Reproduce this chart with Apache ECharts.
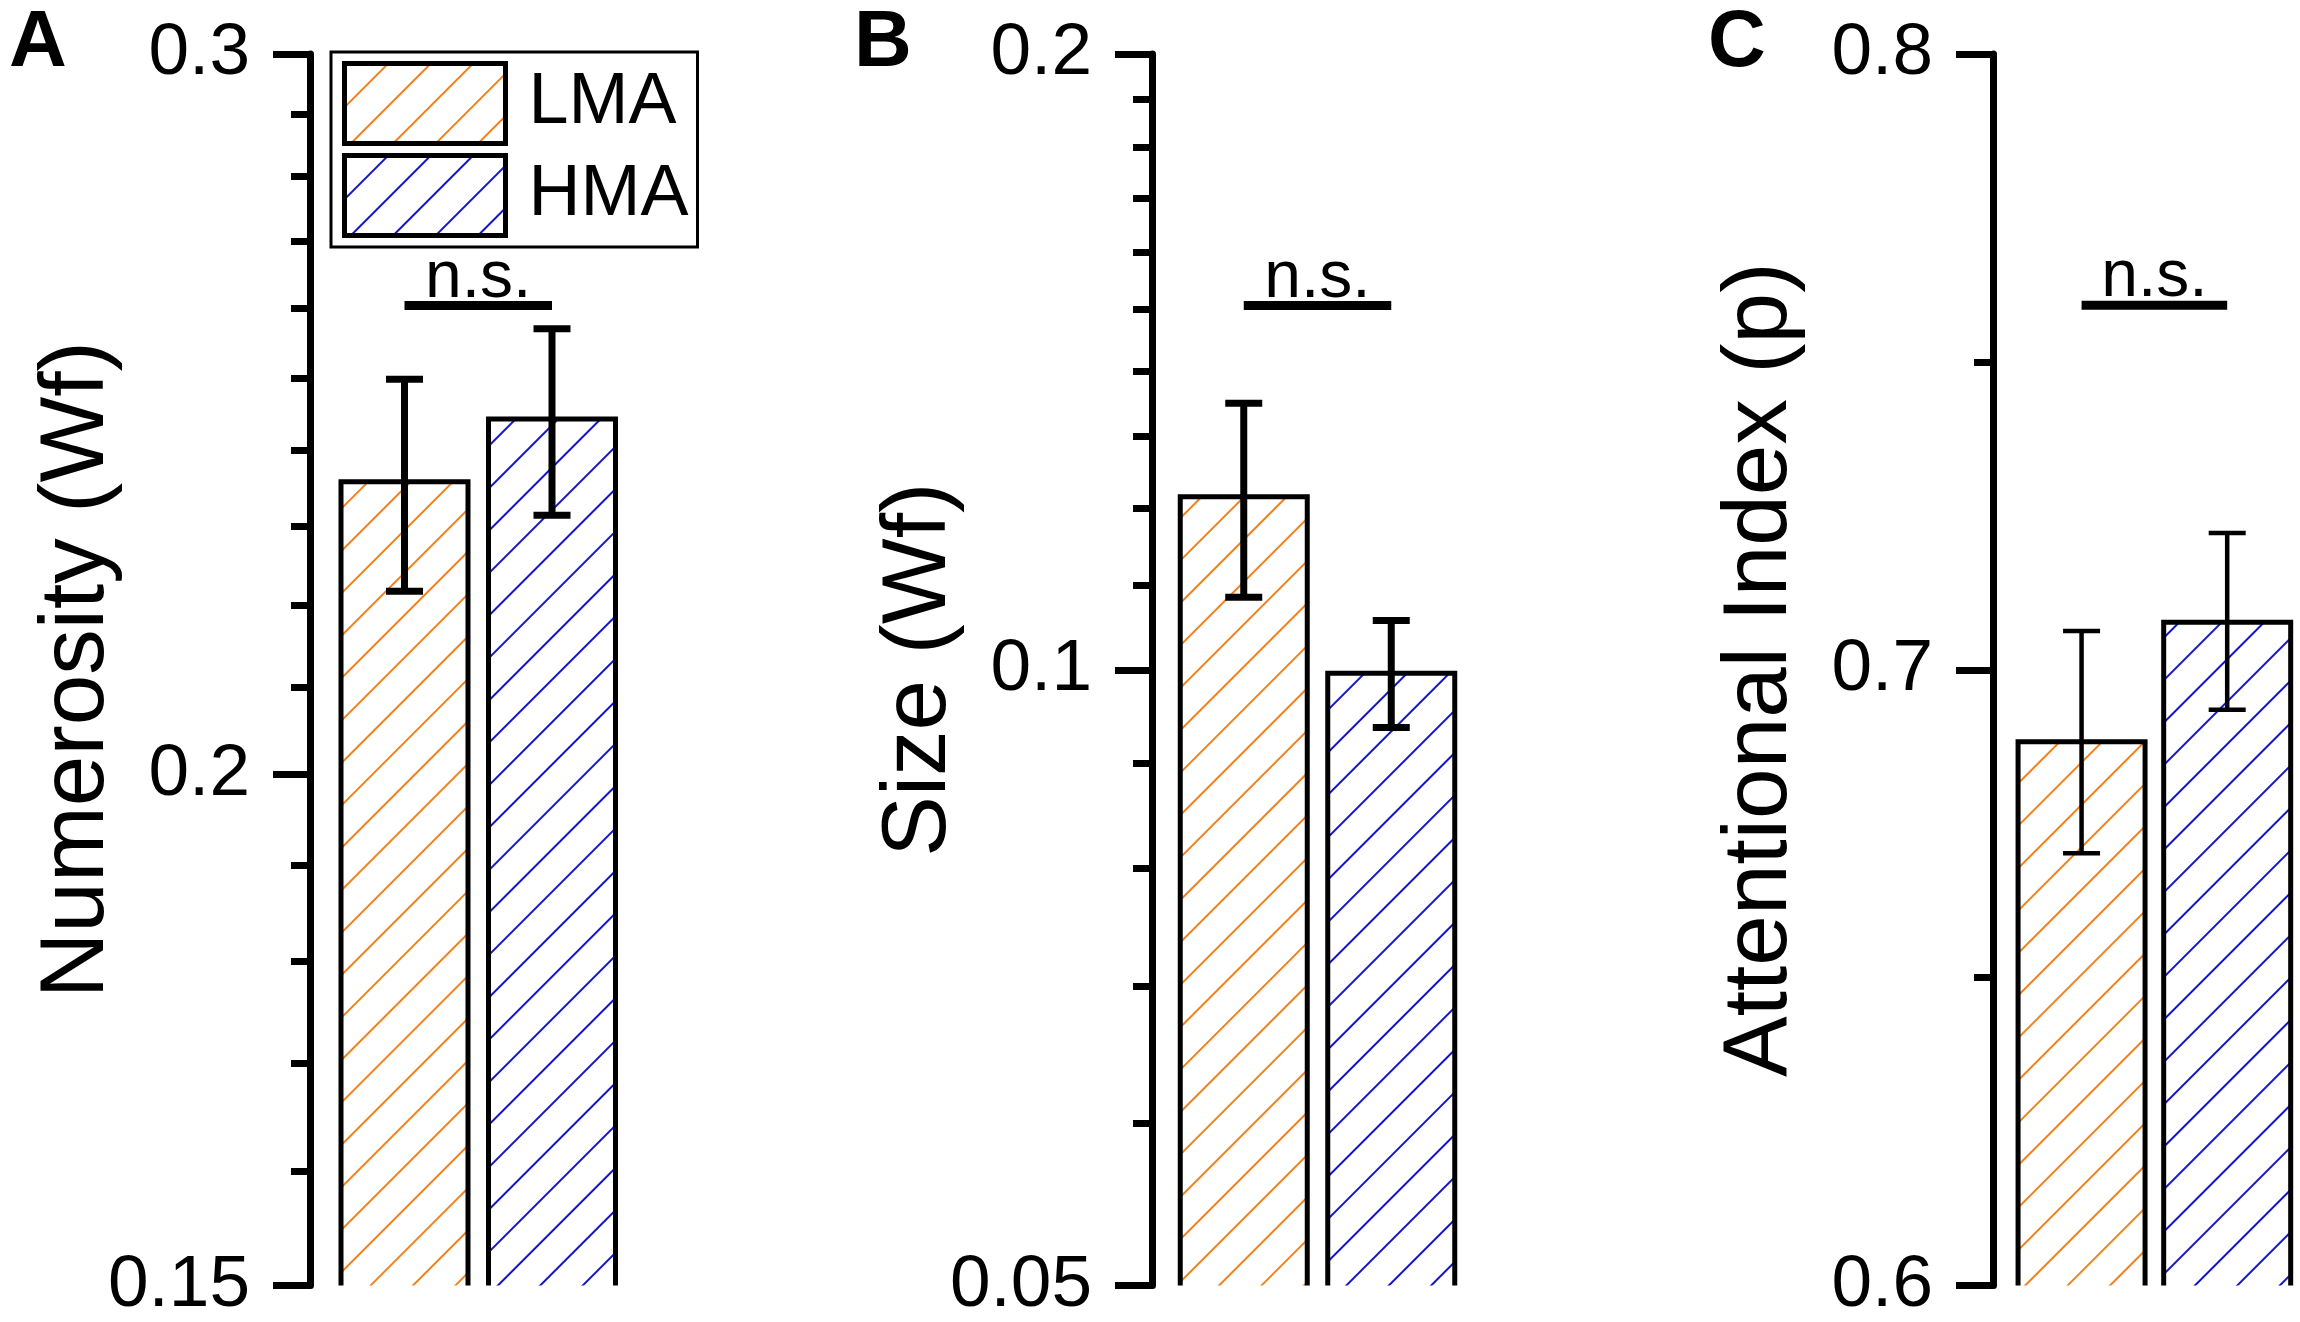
<!DOCTYPE html>
<html>
<head>
<meta charset="utf-8">
<style>
html, body { margin: 0; padding: 0; background: #fff; }
#chart { width: 2300px; height: 1322px; }
</style>
<script src="https://cdn.jsdelivr.net/npm/echarts@6/dist/echarts.min.js"></script>
</head>
<body>
<div id="chart"></div>
<script>
var groups = ['LMA', 'HMA'];

// A: numerosity (Wf), log axis
var numMean = [0.2358, 0.2443];
var numLow = [0.2217, 0.2314];
var numHigh = [0.2498, 0.2570];
var numMajor = [0.15, 0.2, 0.3];
var numMajorLabels = ['0.15', '0.2', '0.3'];
var numMinor = [0.16, 0.17, 0.18, 0.19, 0.21, 0.22, 0.23, 0.24, 0.25, 0.26, 0.27, 0.28, 0.29];

// B: size (Wf), log axis
var sizeMean = [0.1215, 0.0996];
var sizeLow = [0.1085, 0.0937];
var sizeHigh = [0.1350, 0.1057];
var sizeMajor = [0.05, 0.1, 0.2];
var sizeMajorLabels = ['0.05', '0.1', '0.2'];
var sizeMinor = [0.06, 0.07, 0.08, 0.09, 0.11, 0.12, 0.13, 0.14, 0.15, 0.16, 0.17, 0.18, 0.19];

// C: attentional index (p), linear axis
var attMean = [0.6883, 0.7077];
var attLow = [0.6702, 0.6935];
var attHigh = [0.7063, 0.7222];
var attMajor = [0.6, 0.7, 0.8];
var attMajorLabels = ['0.6', '0.7', '0.8'];
var attMinor = [0.65, 0.75];

// height of the n.s. bracket in each panel
var sigLevel = [0.2604, 0.1507, 0.7592];
var sigText = 'n.s.';

var hatchColors = ['#f0821e', '#1414c8'];
var FONT = '"Liberation Sans", Arial, sans-serif';

function logT(v) { return Math.log10(v * 100); }
function linT(v) { return v; }

var panels = [
    {letter: 'A', name: 'Numerosity (Wf)', mean: numMean, low: numLow, high: numHigh,
     major: numMajor, labels: numMajorLabels, minor: numMinor, t: logT,
     left: 330.75, offset: 20.75, errW: 7, letterX: 9},
    {letter: 'B', name: 'Size (Wf)', mean: sizeMean, low: sizeLow, high: sizeHigh,
     major: sizeMajor, labels: sizeMajorLabels, minor: sizeMinor, t: logT,
     left: 1170, offset: 18, errW: 7, letterX: 854},
    {letter: 'C', name: 'Attentional Index (p)', mean: attMean, low: attLow, high: attHigh,
     major: attMajor, labels: attMajorLabels, minor: attMinor, t: linT,
     left: 2008.75, offset: 15.75, errW: 4.5, letterX: 1708}
];

var BAR_W = 127;
var CAP_W = 37;

var grid = [], xAxis = [], yAxis = [], series = [], title = [];

panels.forEach(function (p, i) {
    var t = p.t;
    var majorT = p.major.map(t);
    grid.push({left: p.left, top: 54, width: 295, height: 1240});
    xAxis.push({type: 'category', gridIndex: i, data: groups, show: false});
    title.push({text: p.letter, left: p.letterX, top: 4, padding: 0,
        textStyle: {fontSize: 80, fontWeight: 'bold', color: '#000', fontFamily: FONT}});

    yAxis.push({
        type: 'value', gridIndex: i, position: 'left', offset: p.offset,
        min: t(p.major[0]), max: t(p.major[p.major.length - 1]),
        name: p.name, nameLocation: 'middle', nameGap: 187, nameMoveOverlap: false,
        nameTextStyle: {fontSize: 91, color: '#000', fontFamily: FONT},
        axisLine: {show: true, lineStyle: {color: '#000', width: 7}},
        axisTick: {show: true, customValues: majorT, length: 37, lineStyle: {color: '#000', width: 7}},
        axisLabel: {
            show: true, customValues: majorT, margin: 60,
            fontSize: 73, color: '#000', fontFamily: FONT,
            formatter: function (val) {
                var best = 0;
                for (var k = 1; k < majorT.length; k++) {
                    if (Math.abs(majorT[k] - val) < Math.abs(majorT[best] - val)) best = k;
                }
                return p.labels[best];
            }
        },
        splitLine: {show: false}
    });
    yAxis.push({
        type: 'value', gridIndex: i, position: 'left', offset: p.offset,
        min: t(p.major[0]), max: t(p.major[p.major.length - 1]),
        axisLine: {show: false},
        axisTick: {show: true, customValues: p.minor.map(t), length: 19, lineStyle: {color: '#000', width: 7}},
        axisLabel: {show: false},
        splitLine: {show: false}
    });

    groups.forEach(function (g, j) {
        series.push({
            type: 'bar', name: g, xAxisIndex: i, yAxisIndex: 2 * i,
            data: groups.map(function (gg, k) { return k === j ? t(p.mean[k]) : '-'; }),
            barWidth: BAR_W, barGap: '-100%', silent: true,
            itemStyle: {
                color: '#fff', borderWidth: 0,
                decal: {symbol: 'rect', symbolSize: 1, dashArrayX: [1, 0], dashArrayY: [2, 28],
                        rotation: -Math.PI / 4, color: hatchColors[j]}
            }
        });
    });

    // bar outlines and error bars
    series.push({
        type: 'custom', xAxisIndex: i, yAxisIndex: 2 * i, silent: true, z: 5,
        encode: {x: 0, y: [1, 2, 3]},
        data: groups.map(function (g, k) { return [k, t(p.mean[k]), t(p.low[k]), t(p.high[k])]; }),
        renderItem: function (params, api) {
            var k = api.value(0);
            var top = api.coord([k, api.value(1)]);
            var lo = api.coord([k, api.value(2)]);
            var hi = api.coord([k, api.value(3)]);
            var bottom = params.coordSys.y + params.coordSys.height;
            var cx = top[0], h = BAR_W / 2;
            var ls = {stroke: '#000', lineWidth: p.errW, fill: null};
            return {
                type: 'group',
                children: [
                    {type: 'polyline', shape: {points: [[cx - h, bottom], [cx - h, top[1]], [cx + h, top[1]], [cx + h, bottom]]},
                     style: {stroke: '#000', lineWidth: 5, fill: null, lineJoin: 'miter'}},
                    {type: 'line', shape: {x1: cx, y1: lo[1], x2: cx, y2: hi[1]}, style: ls},
                    {type: 'line', shape: {x1: cx - CAP_W / 2, y1: lo[1], x2: cx + CAP_W / 2, y2: lo[1]}, style: ls},
                    {type: 'line', shape: {x1: cx - CAP_W / 2, y1: hi[1], x2: cx + CAP_W / 2, y2: hi[1]}, style: ls}
                ]
            };
        }
    });

    // n.s. bracket
    series.push({
        type: 'custom', xAxisIndex: i, yAxisIndex: 2 * i, silent: true, z: 5,
        encode: {x: 0, y: 2},
        data: [[0, 1, t(sigLevel[i])]],
        renderItem: function (params, api) {
            var a = api.coord([api.value(0), api.value(2)]);
            var b = api.coord([api.value(1), api.value(2)]);
            return {
                type: 'group',
                children: [
                    {type: 'line', shape: {x1: a[0], y1: a[1], x2: b[0], y2: b[1]},
                     style: {stroke: '#000', lineWidth: 9}},
                    {type: 'text', x: (a[0] + b[0]) / 2, y: a[1] + 6,
                     style: {text: sigText, fontSize: 66, fontFamily: FONT, fill: '#000',
                             align: 'center', verticalAlign: 'bottom', lineHeight: 66}}
                ]
            };
        }
    });
});

var chart = echarts.init(document.getElementById('chart'));
chart.setOption({
    backgroundColor: '#fff',
    animation: false,
    title: title,
    legend: {
        data: groups, orient: 'vertical', left: 331, top: 52,
        icon: 'rect', itemWidth: 161, itemHeight: 80, itemGap: 7,
        padding: [9, 9, 9, 11], borderColor: '#000', borderWidth: 3,
        selectedMode: false,
        itemStyle: {borderColor: '#000', borderWidth: 5},
        textStyle: {fontSize: 72, color: '#000', fontFamily: FONT, lineHeight: 70, padding: [0, 0, 0, 18]}
    },
    grid: grid,
    xAxis: xAxis,
    yAxis: yAxis,
    series: series
});
</script>
</body>
</html>
